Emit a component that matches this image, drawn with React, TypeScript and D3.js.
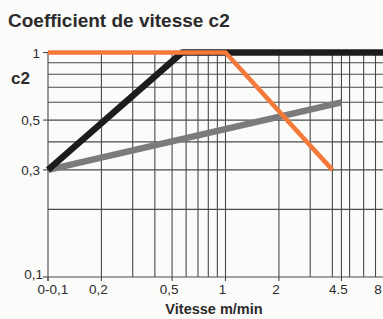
import React from "react";
import * as d3 from "d3";

const W = 383;
const H = 319;

// grid positions (log scales)
const xGrid = [0.2, 0.3, 0.4, 0.5, 0.6, 0.7, 0.8, 0.9, 1, 2, 3, 4, 4.5, 5, 6, 7, 8];
const yGrid = [0.2, 0.3, 0.4, 0.5, 0.6, 0.7, 0.8, 0.9];

const xTicks = [0.1, 0.2, 0.5, 1, 2, 4.5, 8];
const xTickLabels = ["0-0,1", "0,2", "0,5", "1", "2", "4.5", "8"];
const yTicks = [0.1, 0.3, 0.5, 1];
const yTickLabels = ["0,1", "0,3", "0,5", "1"];

// curves
const grayX = [0.1, 4.5];
const grayY = [0.3, 0.6];
const blackX = [0.1, 0.57, 8.5];
const blackY = [0.3, 1, 1];
const orangeX = [0.1, 1, 4];
const orangeY = [1, 1, 0.3];

const font = "'Liberation Sans', Arial, sans-serif";
const textColor = "#2b2b2b";

export default function App() {
  const x = d3.scaleLog().domain([0.1, 1]).range([48, 225.5]);
  const y = d3.scaleLog().domain([0.1, 1]).range([277, 52.5]);
  const x0 = x(0.1);
  const y0 = y(0.1);
  const y1 = y(1);

  const line = d3
    .line<[number, number]>()
    .x((d) => x(d[0]))
    .y((d) => y(d[1]));
  const pts = (xs: number[], ys: number[]) =>
    xs.map((v, i) => [v, ys[i]] as [number, number]);

  // label position tweaks: first label sits right of its tick, last one kept inside
  const labelX = (v: number) => {
    if (v === 0.1) return x(v) + 5;
    return Math.min(x(v) - 3, W - 5);
  };

  return (
    <div style={{ position: "fixed", left: 0, top: 0 }}>
      <svg width={W} height={H} style={{ display: "block", background: "#fbfbf9" }}>
        <text x={8} y={27} fontFamily={font} fontWeight="bold" fontSize={19} fill={textColor}>
          Coefficient de vitesse c2
        </text>

        {/* grid */}
        <g stroke="#4a4a4a" strokeWidth={1.1}>
          {xGrid.map((v) => (
            <line key={"vx" + v} x1={x(v)} x2={x(v)} y1={y1} y2={y0} />
          ))}
          {yGrid.map((v) => (
            <line key={"hy" + v} x1={x0} x2={W} y1={y(v)} y2={y(v)} />
          ))}
          <line x1={x0} x2={W} y1={y0} y2={y0} />
          <line x1={x0} x2={x0} y1={y1} y2={y0 + 4} />
          {xTicks.map((v) => (
            <line key={"tx" + v} x1={x(v)} x2={x(v)} y1={y0} y2={y0 + 4} />
          ))}
          {yTicks.map((v) => (
            <line key={"ty" + v} x1={x0 - 5} x2={x0} y1={y(v)} y2={y(v)} />
          ))}
        </g>

        {/* y labels */}
        {yTicks.map((v, i) => (
          <text
            key={"yl" + v}
            x={v === 0.1 ? 43 : 40}
            y={v === 0.1 ? y(v) + 2 : y(v) + 5}
            textAnchor="end"
            fontFamily={font}
            fontSize={13.5}
            fill={textColor}
          >
            {yTickLabels[i]}
          </text>
        ))}
        <text x={11} y={84} fontFamily={font} fontWeight="bold" fontSize={17} fill={textColor}>
          c2
        </text>

        {/* x labels */}
        {xTicks.map((v, i) => (
          <text
            key={"xl" + v}
            x={labelX(v)}
            y={y0 + 17}
            textAnchor="middle"
            fontFamily={font}
            fontSize={13.5}
            fill={textColor}
          >
            {xTickLabels[i]}
          </text>
        ))}
        <text x={214} y={314} textAnchor="middle" fontFamily={font} fontWeight="bold" fontSize={14.5} fill={textColor}>
          Vitesse m/min
        </text>

        {/* curves */}
        <path d={line(pts(grayX, grayY)) || ""} fill="none" stroke="#7b7b7b" strokeWidth={6.5} />
        <path d={line(pts(blackX, blackY)) || ""} fill="none" stroke="#1c1c1c" strokeWidth={6.5} strokeLinejoin="round" />
        <path d={line(pts(orangeX, orangeY)) || ""} fill="none" stroke="#f57a3a" strokeWidth={4.5} />
      </svg>
    </div>
  );
}
